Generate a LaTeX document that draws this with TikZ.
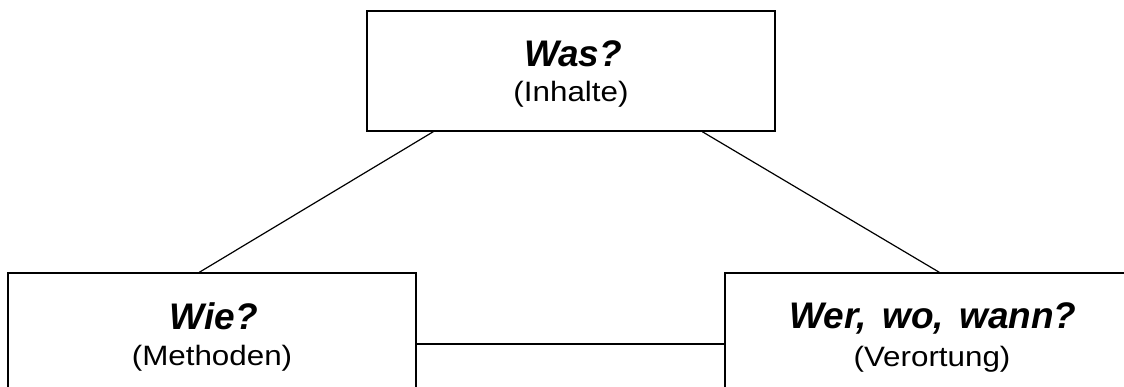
\documentclass[tikz,border=0pt]{standalone}
\usepackage{fontspec}
\setmainfont{Liberation Sans}
\newfontfamily\subfont[FakeStretch=1.12]{Liberation Sans}
\newfontfamily\titlefont[WordSpace=1.5]{Liberation Sans}
\usetikzlibrary{calc}
\tikzset{
  box/.style={draw=black, line width=1.4pt, rectangle, minimum height=120pt, inner sep=0pt},
  titletext/.style={anchor=base, inner sep=0pt, font=\titlefont\fontsize{37}{40}\selectfont\bfseries\itshape},
  subtext/.style={anchor=base, inner sep=0pt, font=\subfont\fontsize{28}{32}\selectfont},
  conn/.style={draw=black, line width=1.2pt}
}
\begin{document}
\begin{tikzpicture}[x=1pt,y=-1pt]
\useasboundingbox (0,0) rectangle (1124,387);
\clip (0,0) rectangle (1124,387);
\node[box, minimum width=408pt] (top) at (571,71) {};
\node[box, minimum width=408pt] (left) at (212,333) {};
\node[box, minimum width=414pt] (right) at (932,333) {};
\node[titletext] (toptitle) at (573,66.7) {Was?};
\node[subtext] (topsub) at (571,101.7) {(Inhalte)};
\node[titletext] (lefttitle) at (214,329) {Wie?};
\node[subtext] (leftsub) at (212,365) {(Methoden)};
\node[titletext] (righttitle) at (933,328) {Wer, wo, wann?};
\node[subtext] (rightsub) at (932,366) {(Verortung)};
\draw[conn] ($(top.south west)+(67,0)$) -- ($(left.north west)+(192,0)$);
\draw[conn] ($(top.south west)+(336,0)$) -- ($(right.north west)+(215,0)$);
\draw[conn] ($(left.east)+(0,11)$) -- ($(right.west)+(0,11)$);
\end{tikzpicture}
\end{document}
